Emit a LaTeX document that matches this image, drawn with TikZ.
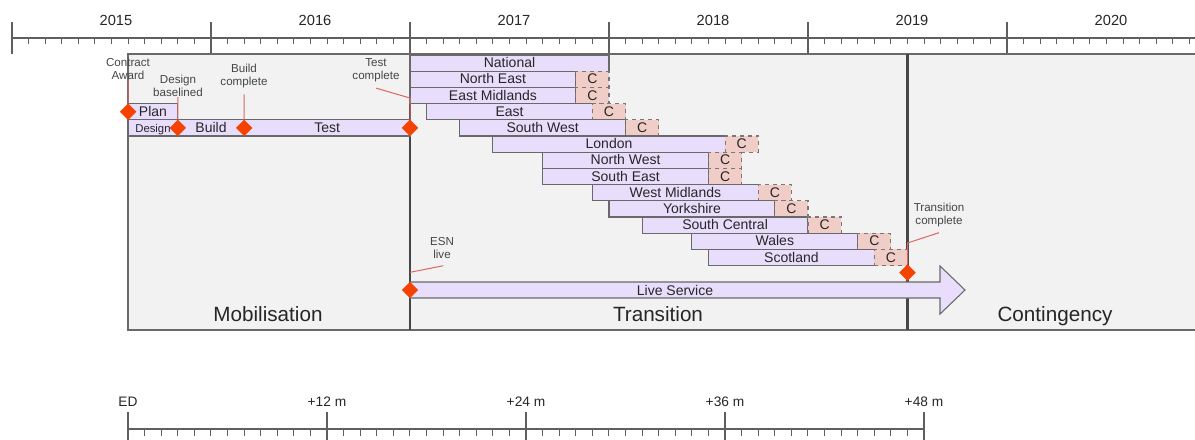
\documentclass[tikz,border=0pt]{standalone}
\usepackage{fontspec}
\setmainfont{Liberation Sans}
\usetikzlibrary{shapes.geometric}
\definecolor{barfill}{RGB}{232,222,252}
\definecolor{cfill}{RGB}{240,205,198}
\definecolor{boxfill}{RGB}{242,242,242}
\definecolor{bordergray}{RGB}{105,105,105}
\definecolor{cgray}{RGB}{120,120,120}
\definecolor{divgray}{RGB}{70,70,70}
\definecolor{msred}{RGB}{245,66,0}
\definecolor{callred}{RGB}{222,100,100}
\definecolor{textdark}{RGB}{38,38,38}
\definecolor{calltext}{RGB}{70,70,70}
\definecolor{axisgray}{RGB}{95,95,95}
\newcommand\mx[1]{12+16.58333*(#1)}
\tikzset{
  bar/.style={draw=bordergray, fill=barfill, line width=0.8pt, minimum height=12.15pt,
    inner sep=0pt, outer sep=0pt, anchor=north west, text height=8pt, text depth=1.1pt,
    font=\fontsize{10.5}{12}\selectfont, text=textdark},
  cbox/.style={bar, draw=cgray, dashed, fill=cfill},
  ms/.style={diamond, fill=msred, draw=none, minimum size=12.5pt, inner sep=0pt},
  call/.style={font=\fontsize{8.7}{10}\selectfont, text=calltext, align=center, inner sep=0pt},
  callline/.style={draw=callred, line width=0.75pt},
  axisline/.style={draw=axisgray, line width=1pt},
  minortick/.style={draw=axisgray, line width=0.8pt},
  yearlab/.style={font=\fontsize{11}{13}\selectfont, text=textdark, anchor=base},
  phaselab/.style={font=\fontsize{15.5}{18}\selectfont, text=textdark, anchor=base},
  edlab/.style={font=\fontsize{10.3}{12}\selectfont, text=textdark, anchor=base},
}
\newcommand\grow[5]{%
  \node[bar, minimum width={(#4-#3)*12.4375pt}] (#1) at ({\mx{#3}},{55+16.2*#5}) {#2};
  \node[cbox, minimum width={2*12.4375pt}] (#1c) at (#1.north east) {C};
}
\begin{document}
\begin{tikzpicture}[x=0.75pt,y=-0.75pt]
\useasboundingbox (0,0) rectangle (1195,439);
\clip (0,0) rectangle (1195,439);
% top axis
\draw[axisline] (12,38) -- (1210,38);
\foreach \m in {0,...,71} { \draw[minortick] ({\mx{\m}},38) -- ({\mx{\m}},44); }
\foreach \k in {0,...,5} { \draw[axisline] ({12+199*\k},22) -- ({12+199*\k},54); }
\foreach \y [count=\k from 0] in {2015,2016,2017,2018,2019,2020} {
  \node[yearlab] (y\y) at ({12+199*\k+104},25.7) {\y};
}
% main box
\draw[fill=boxfill, draw=bordergray, line width=1.1pt] (128,54) rectangle (1215,330);
\draw[draw=divgray, line width=1.4pt] (410,54) -- (410,330);
\draw[draw=divgray, line width=1.6pt] (907.5,54) -- (907.5,330);
% mobilisation bars
\node[bar, minimum width={3*12.4375pt}] (plan) at ({\mx{7}},103.6) {Plan};
\node[bar, minimum width={3*12.4375pt}, font=\fontsize{8.5}{10}\selectfont] (design) at ({\mx{7}},119.8) {Design};
\node[bar, minimum width={4*12.4375pt}] (build) at ({\mx{10}},119.8) {Build};
\node[bar, minimum width={10*12.4375pt}] (test) at ({\mx{14}},119.8) {Test};
% transition bars
\node[bar, minimum width={12*12.4375pt}] (national) at ({\mx{24}},55) {National};
\grow{ne}{North East}{24}{34}{1}
\grow{em}{East Midlands}{24}{34}{2}
\grow{east}{East}{25}{35}{3}
\grow{sw}{South West}{27}{37}{4}
\grow{lon}{London}{29}{43}{5}
\grow{nw}{North West}{32}{42}{6}
\grow{se}{South East}{32}{42}{7}
\grow{wm}{West Midlands}{35}{45}{8}
\grow{yo}{Yorkshire}{36}{46}{9}
\grow{sc}{South Central}{38}{48}{10}
\grow{wa}{Wales}{41}{51}{11}
\grow{sco}{Scotland}{42}{52}{12}
% live service arrow
\draw[fill=barfill, draw=bordergray, line width=0.8pt]
  (410,282) -- (940,282) -- (940,266) -- (965,290) -- (940,314) -- (940,298) -- (410,298) -- cycle;
\node[font=\fontsize{10.5}{12}\selectfont, text=textdark] (live) at (675,290) {Live Service};
% phase labels
\node[phaselab] (mob) at (268,321) {Mobilisation};
\node[phaselab] (tra) at (658,321) {Transition};
\node[phaselab] (con) at (1055,321) {Contingency};
% milestones
\node[ms] (ca) at ({\mx{7}},111.7) {};
\node[ms] (db) at ({\mx{10}},127.9) {};
\node[ms] (bc) at ({\mx{14}},127.9) {};
\node[ms] (tc) at (410,127.9) {};
\node[ms] (esn) at (410,290) {};
\node[ms] (trc) at (907.5,272.7) {};
% callout texts
\node[call] (catext) at (128,69) {Contract\\Award};
\node[call] (dbtext) at (178,86) {Design\\baselined};
\node[call] (bctext) at (244,76) {Build\\complete};
\node[call] (tctext) at (376,70) {Test\\complete};
\node[call] (esntext) at (442,248) {ESN\\live};
\node[call] (trtext) at (939,215) {Transition\\complete};
% callout lines
\coordinate (tcbend) at (410,98);
\coordinate (esnend) at (410,272.3);
\coordinate (trbend) at (907.5,243);
\draw[callline] (catext.south) -- (ca.north);
\draw[callline] (dbtext.south) -- (db.north);
\draw[callline] ([yshift=-4.5pt]bctext.south) -- (bc.north);
\draw[callline] ([yshift=-4.5pt]tctext.south) -- (tcbend) -- (tc.north);
\draw[callline] ([xshift=1pt,yshift=-5pt]esntext.south) -- (esnend);
\draw[callline] ([yshift=-4pt]trtext.south) -- (trbend) -- (trc.north);
% bottom axis
\draw[axisline] (128,429) -- (924,429);
\foreach \m in {0,...,48} { \draw[minortick] ({128+16.58333*\m},429) -- ({128+16.58333*\m},436); }
\foreach \k in {0,...,4} { \draw[axisline] ({128+199*\k},412) -- ({128+199*\k},445); }
\node[edlab] (ed) at (128,406.7) {ED};
\node[edlab] (m12) at (327,406.7) {+12 m};
\node[edlab] (m24) at (526,406.7) {+24 m};
\node[edlab] (m36) at (725,406.7) {+36 m};
\node[edlab] (m48) at (924,406.7) {+48 m};
\end{tikzpicture}
\end{document}
